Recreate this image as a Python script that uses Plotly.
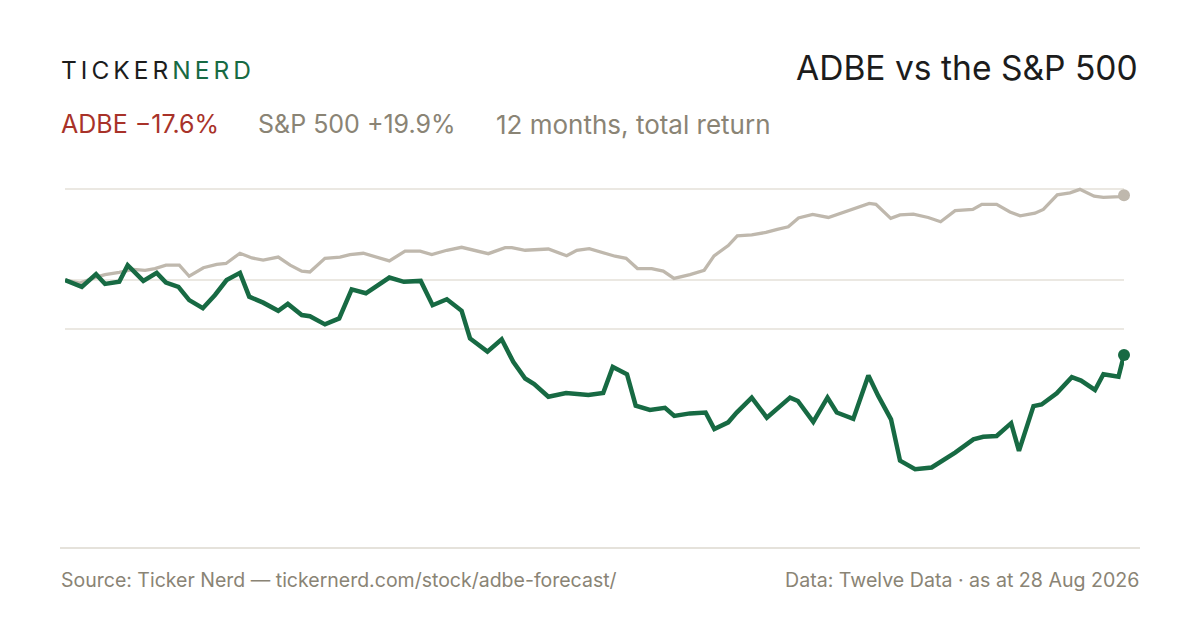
import pandas as pd
import plotly.graph_objects as go

# 12 month total return, % vs start (day offsets from 28 Aug 2025)
start = pd.Timestamp("2025-08-28")

adbe_days = [0, 5.8, 10.7, 13.8, 18.7, 21.6, 27.0, 31.6, 34.8, 39.1, 42.8, 47.5, 51.7, 55.7, 60.3,
             63.5, 68.3, 73.5, 76.8, 81.6, 84.4, 89.6, 94.5, 98.8, 103.7, 111.8, 116.8, 122.6,
             126.7, 131.6, 136.7, 139.6, 145.6, 150.5, 154.5, 158.6, 161.7, 166.6, 172.7, 176.4,
             180.4, 185.5, 188.8, 193.7, 196.7, 201.6, 206.8, 210.0, 215.4, 220.8, 223.8, 228.6,
             231.5, 236.7, 241.9, 247.0, 249.9, 252.6, 257.9, 262.8, 266.0, 271.7, 276.9, 280.3,
             284.7, 287.8, 293.0, 298.7, 306.8, 313.1, 316.5, 321.1, 326.1, 328.8, 333.8, 336.6,
             341.8, 347.0, 350.2, 355.0, 357.9, 363.1, 365]
adbe_ret = [0.0, -1.6, 1.4, -0.9, -0.4, 3.5, -0.2, 1.7, -0.6, -1.6, -4.7, -6.6, -3.5, 0.0, 1.7,
            -3.9, -5.3, -7.2, -5.6, -8.2, -8.5, -10.4, -9.0, -2.2, -3.1, 0.6, -0.4, -0.2,
            -5.9, -4.5, -7.2, -13.7, -16.8, -13.9, -19.2, -23.1, -24.4, -27.4, -26.5, -26.8,
            -27.0, -26.5, -20.4, -22.1, -29.5, -30.5, -30.0, -31.9, -31.3, -31.1, -35.0, -33.4,
            -31.1, -27.6, -32.3, -29.3, -27.6, -28.4, -33.3, -27.6, -31.1, -32.6, -22.4, -27.2,
            -32.7, -42.4, -44.4, -44.0, -40.5, -37.4, -36.8, -36.6, -33.6, -40.1, -29.6, -29.2,
            -26.6, -22.8, -23.6, -25.8, -22.1, -22.7, -17.6]

spx_days = [0, 5.2, 10.7, 13.8, 18.7, 23.5, 27.6, 31.0, 34.8, 39.4, 42.8, 47.7, 52.3, 55.5, 60.3,
            64.4, 68.3, 73.5, 77.6, 81.6, 84.4, 89.6, 94.8, 98.2, 102.8, 106.9, 111.8, 117.2,
            122.4, 126.4, 131.6, 136.7, 141.3, 145.9, 151.7, 154.0, 158.6, 166.6, 172.9, 176.4,
            180.7, 185.5, 189.6, 193.4, 197.3, 202.2, 206.2, 209.9, 215.4, 220.3, 223.7, 228.6,
            231.7, 236.7, 241.6, 245.5, 249.3, 252.8, 257.7, 263.1, 271.7, 277.2, 279.5, 284.6,
            287.8, 292.4, 297.5, 301.8, 306.8, 312.9, 316.0, 321.1, 325.7, 329.2, 334.3, 337.2,
            342.0, 346.4, 349.8, 354.7, 357.9, 363.6, 365]
spx_ret = [0.0, -0.7, 0.7, 1.3, 1.8, 2.5, 2.3, 2.7, 3.5, 3.5, 0.9, 2.9, 3.7, 3.9, 6.3,
           5.2, 4.7, 5.4, 3.5, 2.1, 1.9, 5.1, 5.4, 6.0, 6.3, 5.5, 4.5, 6.8,
           6.8, 6.0, 7.0, 7.7, 7.0, 6.2, 7.6, 7.6, 7.0, 7.3, 5.7, 7.0,
           7.4, 6.5, 5.6, 5.1, 2.7, 2.7, 2.1, 0.4, 1.3, 2.3, 5.7, 8.1,
           10.4, 10.6, 11.2, 11.9, 12.5, 14.6, 15.4, 14.7, 16.7, 18.0, 17.8, 14.5,
           15.3, 15.5, 14.7, 13.7, 16.3, 16.6, 17.8, 17.8, 16.0, 15.1, 15.7, 16.6,
           20.0, 20.5, 21.3, 19.7, 19.4, 19.6, 19.9]

grid_vals = [-11.5, 0, 21.4]

GREEN = "#176a43"
SAND = "#bfb8ad"
RED = "#a83229"
MUTED = "#8a8475"
FONT = "Inter"

adbe_x = [start + pd.Timedelta(days=d) for d in adbe_days]
spx_x = [start + pd.Timedelta(days=d) for d in spx_days]

fig = go.Figure()

fig.add_trace(go.Scatter(x=spx_x, y=spx_ret, mode="lines", name="S&P 500",
                         line=dict(color=SAND, width=3.3), hoverinfo="skip"))
fig.add_trace(go.Scatter(x=adbe_x, y=adbe_ret, mode="lines", name="ADBE",
                         line=dict(color=GREEN, width=4.5), hoverinfo="skip"))
# end dots
fig.add_trace(go.Scatter(x=[spx_x[-1]], y=[spx_ret[-1]], mode="markers",
                         marker=dict(color=SAND, size=12), cliponaxis=False, hoverinfo="skip"))
fig.add_trace(go.Scatter(x=[adbe_x[-1]], y=[adbe_ret[-1]], mode="markers",
                         marker=dict(color=GREEN, size=12), cliponaxis=False, hoverinfo="skip"))

# bottom rule
fig.add_shape(type="line", xref="paper", yref="paper", x0=-5 / 1059, x1=1075 / 1059,
              y0=-8 / 360, y1=-8 / 360, line=dict(color="#dcd8cf", width=1.5))

fig.add_annotation(text="<span style='letter-spacing:4px'>TICKER<span style='color:%s'>NERD</span></span>" % GREEN,
                   xref="paper", yref="paper",
                   x=-6 / 1059, y=(540 - 70) / 360, xanchor="left", yanchor="middle", showarrow=False,
                   font=dict(family=FONT, size=24.5, color="#1c1c1c"))
fig.add_annotation(text="ADBE vs the S&P 500", xref="paper", yref="paper",
                   x=1075 / 1059, y=(540 - 67) / 360, xanchor="right", yanchor="middle", showarrow=False,
                   font=dict(family=FONT, size=33.6, color="#1c1c1c"))

sub_y = (540 - 124) / 360
fig.add_annotation(text="ADBE \u221217.6%", xref="paper", yref="paper", x=-6 / 1059, y=sub_y,
                   xanchor="left", yanchor="middle", showarrow=False,
                   font=dict(family=FONT, size=25, color=RED))
fig.add_annotation(text="S&P 500 +19.9%", xref="paper", yref="paper", x=191 / 1059, y=sub_y,
                   xanchor="left", yanchor="middle", showarrow=False,
                   font=dict(family=FONT, size=25, color=MUTED))
fig.add_annotation(text="12 months, total return", xref="paper", yref="paper", x=429 / 1059, y=sub_y,
                   xanchor="left", yanchor="middle", showarrow=False,
                   font=dict(family=FONT, size=26, color=MUTED))

foot_y = (540 - 580) / 360
fig.add_annotation(text="Source: Ticker Nerd \u2014 tickernerd.com/stock/adbe-forecast/", xref="paper", yref="paper",
                   x=-6 / 1059, y=foot_y, xanchor="left", yanchor="middle", showarrow=False,
                   font=dict(family=FONT, size=19.5, color=MUTED))
fig.add_annotation(text="Data: Twelve Data \u00b7 as at 28 Aug 2026", xref="paper", yref="paper",
                   x=1076 / 1059, y=foot_y, xanchor="right", yanchor="middle", showarrow=False,
                   font=dict(family=FONT, size=19.6, color=MUTED))

# page body adds an 8px offset, so margins are shifted to land on the reference pixels
fig.update_layout(
    width=1200, height=630,
    margin=dict(l=57, r=84, t=172, b=98),
    paper_bgcolor="white", plot_bgcolor="white",
    showlegend=False,
    xaxis=dict(range=[spx_x[0], spx_x[-1]], showgrid=False, zeroline=False,
               showticklabels=False, ticks="", showline=False),
    yaxis=dict(range=[-61.03, 23.5], tickvals=grid_vals, showticklabels=False,
               gridcolor="#ebe8e2", gridwidth=1.5, zeroline=False, showline=False),
)

fig.write_html("out.html")
